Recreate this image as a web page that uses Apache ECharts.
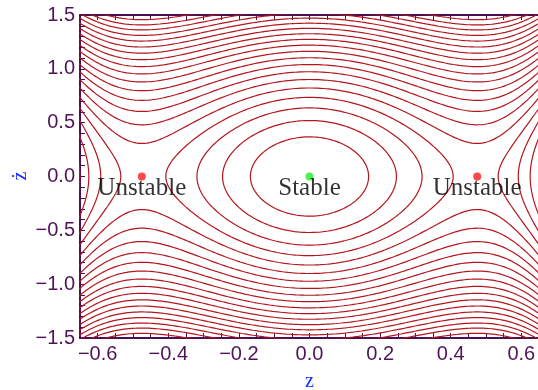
<!DOCTYPE html>
<html><head><meta charset="utf-8">
<script src="https://cdn.jsdelivr.net/npm/echarts@6/dist/echarts.min.js"></script>
<style>html,body{margin:0;padding:0;background:#fff}#c{width:538px;height:390px}</style>
</head><body><div id="c"></div>
<script>
// ---------- data ----------
const zRange = [-0.65, 0.65];
const zdotRange = [-1.5, 1.5];
const zTickLabels = [-0.6, -0.4, -0.2, 0.0, 0.2, 0.4, 0.6];
const zMinorTicks = [-0.65,-0.6,-0.55,-0.5,-0.45,-0.4,-0.35,-0.3,-0.25,-0.2,-0.15,-0.1,-0.05,0,0.05,0.1,0.15,0.2,0.25,0.3,0.35,0.4,0.45,0.5,0.55,0.6,0.65];
const zdotTickLabels = [-1.5, -1.0, -0.5, 0.0, 0.5, 1.0, 1.5];
const zdotMinorTicks = [-1.5,-1.4,-1.3,-1.2,-1.1,-1.0,-0.9,-0.8,-0.7,-0.6,-0.5,-0.4,-0.3,-0.2,-0.1,0,0.1,0.2,0.3,0.4,0.5,0.6,0.7,0.8,0.9,1.0,1.1,1.2,1.3,1.4,1.5];
const eqZ = [-0.475, 0.0, 0.475];
const eqZdot = [0.0, 0.0, 0.0];
const eqLabels = ['Unstable', 'Stable', 'Unstable'];
const eqColors = ['#ff1a1a', '#22ee22', '#ff1a1a'];
const xName = 'z';
const yName = '\u017C';
// small-oscillation frequency and saddle position (read from the innermost orbit / red dots)
const omega = 2.27;
const zSaddle = 0.475;
// contour levels, given as the zdot value each curve would have at z = 0
const levelZdot0 = [0.368, 0.520, 0.637, 0.735, 0.822, 0.901, 0.973, 1.040, 1.103, 1.163,
                    1.220, 1.274, 1.326, 1.376, 1.424, 1.471, 1.516, 1.560, 1.601, 1.644];

// ---------- model & contouring ----------
function V(z) { return omega * omega * (z * z / 2 - z * z * z * z / (4 * zSaddle * zSaddle)); }
function Hf(z, zd) { return 0.5 * zd * zd + V(z); }

const NX = 520, NY = 620;
const gx0 = -0.68, gx1 = 0.68, gy0 = -1.56, gy1 = 1.56;
const dx = (gx1 - gx0) / NX, dy = (gy1 - gy0) / NY;
const F = [];
for (let j = 0; j <= NY; j++) {
  const row = new Float64Array(NX + 1);
  const y = gy0 + j * dy;
  for (let i = 0; i <= NX; i++) row[i] = Hf(gx0 + i * dx, y);
  F.push(row);
}
const CASES = {1:[[3,0]],2:[[0,1]],3:[[3,1]],4:[[1,2]],6:[[0,2]],7:[[3,2]],8:[[2,3]],9:[[0,2]],11:[[1,2]],12:[[3,1]],13:[[0,1]],14:[[3,0]]};
function contour(L) {
  const adj = new Map(), pos = new Map();
  const W = NX + 2;
  function edge(e, i, j) {
    let k, p, fa, fb, t;
    if (e === 0) { k = (j * W + i) * 2; fa = F[j][i]; fb = F[j][i + 1]; t = (L - fa) / (fb - fa); p = [gx0 + (i + t) * dx, gy0 + j * dy]; }
    else if (e === 2) { k = ((j + 1) * W + i) * 2; fa = F[j + 1][i]; fb = F[j + 1][i + 1]; t = (L - fa) / (fb - fa); p = [gx0 + (i + t) * dx, gy0 + (j + 1) * dy]; }
    else if (e === 3) { k = (j * W + i) * 2 + 1; fa = F[j][i]; fb = F[j + 1][i]; t = (L - fa) / (fb - fa); p = [gx0 + i * dx, gy0 + (j + t) * dy]; }
    else { k = (j * W + i + 1) * 2 + 1; fa = F[j][i + 1]; fb = F[j + 1][i + 1]; t = (L - fa) / (fb - fa); p = [gx0 + (i + 1) * dx, gy0 + (j + t) * dy]; }
    return [k, p];
  }
  function link(a, b) {
    pos.set(a[0], a[1]); pos.set(b[0], b[1]);
    if (!adj.has(a[0])) adj.set(a[0], []);
    if (!adj.has(b[0])) adj.set(b[0], []);
    adj.get(a[0]).push(b[0]); adj.get(b[0]).push(a[0]);
  }
  for (let j = 0; j < NY; j++) for (let i = 0; i < NX; i++) {
    const a = F[j][i], b = F[j][i + 1], c = F[j + 1][i + 1], d = F[j + 1][i];
    const idx = (a > L ? 1 : 0) | (b > L ? 2 : 0) | (c > L ? 4 : 0) | (d > L ? 8 : 0);
    if (idx === 0 || idx === 15) continue;
    let pairs = CASES[idx];
    if (idx === 5 || idx === 10) {
      const ctr = (a + b + c + d) / 4 > L;
      if (idx === 5) pairs = ctr ? [[0, 1], [2, 3]] : [[3, 0], [1, 2]];
      else pairs = ctr ? [[3, 0], [1, 2]] : [[0, 1], [2, 3]];
    }
    for (const pr of pairs) link(edge(pr[0], i, j), edge(pr[1], i, j));
  }
  const visited = new Set(), lines = [];
  function walk(start) {
    const pts = []; let prev = -1, cur = start;
    while (true) {
      pts.push(pos.get(cur)); visited.add(cur);
      const nb = adj.get(cur); let nx = -1;
      for (const n of nb) if (n !== prev && !visited.has(n)) { nx = n; break; }
      if (nx < 0) { if (nb.indexOf(start) >= 0 && pts.length > 2) pts.push(pos.get(start)); break; }
      prev = cur; cur = nx;
    }
    return pts;
  }
  for (const [k, nb] of adj) if (nb.length === 1 && !visited.has(k)) lines.push(walk(k));
  for (const [k] of adj) if (!visited.has(k)) lines.push(walk(k));
  return lines;
}

const curveColor = '#b3161c';
const series = [];
for (const zd0 of levelZdot0) {
  const L = Hf(0, zd0);
  for (const pts of contour(L)) {
    if (pts.length < 2) continue;
    series.push({ type: 'line', data: pts, symbol: 'none', silent: true, animation: false, clip: true,
      lineStyle: { color: curveColor, width: 1.2 }, z: 2 });
  }
}
series.push({
  type: 'scatter', silent: true, animation: false, z: 5,
  data: eqZ.map((z, k) => ({ value: [z, eqZdot[k]], itemStyle: { color: eqColors[k] } })),
  symbolSize: 8
});
series.push({
  type: 'scatter', silent: true, animation: false, z: 6, symbolSize: 0,
  data: eqZ.map((z, k) => ({ value: [z, eqZdot[k]], name: eqLabels[k] })),
  label: { show: true, position: 'inside', offset: [0, 12], formatter: p => p.name,
    fontFamily: '"Liberation Serif", "Times New Roman", serif', fontSize: 25, color: '#000' }
});

const frameColor = '#4a1052';
const labelColor = '#4f1457';
const nameColor = '#1a2cff';
const nameFont = '"Liberation Serif", "Times New Roman", serif';
const fmt = v => (Math.abs(v) < 1e-9 ? '0.0' : (v < 0 ? '\u2212' : '') + Math.abs(v).toFixed(1));
const axisLine = { show: true, onZero: false, lineStyle: { color: frameColor, width: 2 } };
const chart = echarts.init(document.getElementById('c'), null, { renderer: 'canvas' });
chart.setOption({
  animation: false,
  backgroundColor: '#fff',
  grid: { left: 80, top: 15, width: 459, height: 323, outerBoundsMode: 'none', containLabel: false },
  graphic: [{
    type: 'text', x: 21, y: 176, rotation: Math.PI / 2, silent: true,
    style: { text: yName, fill: nameColor, font: '20px ' + nameFont, align: 'center', verticalAlign: 'middle' }
  }],
  xAxis: [
    { type: 'value', min: zRange[0], max: zRange[1], position: 'bottom', axisLine,
      splitLine: { show: false },
      axisTick: { show: true, inside: true, length: 5, customValues: zMinorTicks, lineStyle: { color: frameColor, width: 1 } },
      axisLabel: { show: true, customValues: zTickLabels, formatter: fmt, fontSize: 20, color: labelColor,
        fontFamily: '"Liberation Sans", Arial, sans-serif', margin: 6 },
      name: xName, nameLocation: 'middle', nameGap: 34,
      nameTextStyle: { color: nameColor, fontSize: 20, fontFamily: nameFont } },
    { type: 'value', min: zRange[0], max: zRange[1], position: 'top', axisLine,
      splitLine: { show: false },
      axisTick: { show: true, inside: true, length: 5, customValues: zMinorTicks, lineStyle: { color: frameColor, width: 1 } },
      axisLabel: { show: false } }
  ],
  yAxis: [
    { type: 'value', min: zdotRange[0], max: zdotRange[1], position: 'left', axisLine,
      splitLine: { show: false },
      axisTick: { show: true, inside: true, length: 5, customValues: zdotMinorTicks, lineStyle: { color: frameColor, width: 1 } },
      axisLabel: { show: true, customValues: zdotTickLabels, formatter: fmt, fontSize: 20, color: labelColor,
        fontFamily: '"Liberation Sans", Arial, sans-serif', margin: 5 } }
  ],
  series
});
</script></body></html>
